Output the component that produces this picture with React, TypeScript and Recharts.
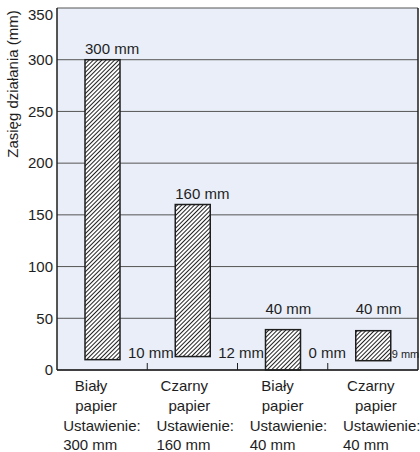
import React from "react";
import { BarChart, Bar, XAxis, YAxis, CartesianGrid } from "recharts";

const categories = ["Biały 300", "Czarny 160", "Biały 40", "Czarny 40"];
const categoryLines = [
  ["Biały", "papier", "Ustawienie:", "300 mm"],
  ["Czarny", "papier", "Ustawienie:", "160 mm"],
  ["Biały", "papier", "Ustawienie:", "40 mm"],
  ["Czarny", "papier", "Ustawienie:", "40 mm"],
];
const rangeMin = [10, 13, 0, 9];
const rangeMax = [300, 160, 39, 38];
const maxLabels = ["300 mm", "160 mm", "40 mm", "40 mm"];
const minLabels = ["10 mm", "12 mm", "0 mm", "9 mm"];
const yTicks = [0, 50, 100, 150, 200, 250, 300, 350];
const yLabel = "Zasięg działania (mm)";

const data = categories.map((name, i) => ({
  name,
  range: [rangeMin[i], rangeMax[i]],
}));

const W = 420;
const H = 452;
const MARGIN_TOP = 8;
const Y_W = 57;
const RIGHT_W = 2;
const X_H = 82;
const PLOT_BOTTOM = H - X_H;
const PLOT_W = W - Y_W - RIGHT_W;
const HALF_BAND = PLOT_W / categories.length / 2;
const FONT = "'Liberation Sans', Arial, Helvetica, sans-serif";
const FS = 15;
const INK = "#1e1e1e";

const BarShape = (props: any) => {
  const { x, y, width, height, index } = props;
  const last = index === categories.length - 1;
  const topY = Math.min(y - 6, 314);
  return (
    <g>
      <rect
        x={x}
        y={y}
        width={width}
        height={height}
        fill="url(#hatch)"
        stroke={INK}
        strokeWidth={1.5}
      />
      <text x={x} y={topY} fontSize={FS} fontFamily={FONT} fill={INK}>
        {maxLabels[index]}
      </text>
      <text
        x={x + width + (last ? 1 : 8)}
        y={PLOT_BOTTOM - 12}
        fontSize={last ? 11 : FS}
        fontFamily={FONT}
        fill={INK}
      >
        {minLabels[index]}
      </text>
    </g>
  );
};

const CategoryTick = (props: any) => {
  const { x, y, index } = props;
  const lines = categoryLines[index] || [];
  const left = x - 39 + 3 * index;
  return (
    <g>
      {index < categories.length - 1 && (
        <line
          x1={x + HALF_BAND}
          x2={x + HALF_BAND}
          y1={y}
          y2={y - 7}
          stroke={INK}
          strokeWidth={1}
        />
      )}
      <text fontSize={FS} fontFamily={FONT} fill={INK}>
        <tspan x={left + 28} y={y + 21} textAnchor="middle">
          {lines[0]}
        </tspan>
        <tspan x={left + 33} y={y + 41} textAnchor="middle">
          {lines[1]}
        </tspan>
        <tspan x={left} y={y + 61} textAnchor="start">
          {lines[2]}
        </tspan>
        <tspan x={left} y={y + 80} textAnchor="start">
          {lines[3]}
        </tspan>
      </text>
    </g>
  );
};

const YTick = (props: any) => {
  const { x, y, payload } = props;
  const shift = payload.value === yTicks[yTicks.length - 1] ? 6 : 0;
  return (
    <text
      x={x}
      y={y + shift}
      dy="0.355em"
      textAnchor="end"
      fontSize={FS}
      fontFamily={FONT}
      fill={INK}
    >
      {payload.value}
    </text>
  );
};

const YLabel = () => (
  <text
    x={18}
    y={84}
    transform="rotate(-90, 18, 84)"
    textAnchor="middle"
    fontSize={FS}
    fontFamily={FONT}
    fill={INK}
  >
    {yLabel}
  </text>
);

export default function App() {
  return (
    <div style={{ position: "absolute", left: 0, top: 0, background: "#fff" }}>
      <BarChart
        width={W}
        height={H}
        data={data}
        margin={{ top: MARGIN_TOP, right: 0, bottom: 0, left: 0 }}
        barSize={35}
      >
        <defs>
          <pattern
            id="hatch"
            patternUnits="userSpaceOnUse"
            width={3}
            height={3}
            patternTransform="rotate(45)"
          >
            <rect x={0} y={0} width={3} height={3} fill="#ffffff" />
            <line x1={0.5} y1={0} x2={0.5} y2={3} stroke="#222" strokeWidth={1} />
          </pattern>
        </defs>
        <CartesianGrid
          vertical={false}
          fill="#e9eef8"
          fillOpacity={1}
          stroke="#555"
          strokeWidth={1}
        />
        <XAxis
          dataKey="name"
          height={X_H}
          tickLine={false}
          tickSize={0}
          tickMargin={0}
          axisLine={{ stroke: INK, strokeWidth: 1.5 }}
          tick={<CategoryTick />}
          interval={0}
        />
        <XAxis
          xAxisId="top"
          dataKey="name"
          orientation="top"
          height={0}
          tick={false}
          tickLine={false}
          axisLine={{ stroke: INK, strokeWidth: 1.5 }}
        />
        <YAxis
          width={Y_W}
          domain={[0, 350]}
          ticks={yTicks}
          tickLine={false}
          tickSize={0}
          tickMargin={4}
          axisLine={{ stroke: INK, strokeWidth: 1.5 }}
          tick={<YTick />}
          label={{ content: () => <YLabel /> }}
        />
        <YAxis
          yAxisId="right"
          orientation="right"
          width={RIGHT_W}
          domain={[0, 350]}
          tick={false}
          tickLine={false}
          axisLine={{ stroke: INK, strokeWidth: 1.5 }}
        />
        <Bar dataKey="range" shape={<BarShape />} isAnimationActive={false} />
      </BarChart>
    </div>
  );
}
